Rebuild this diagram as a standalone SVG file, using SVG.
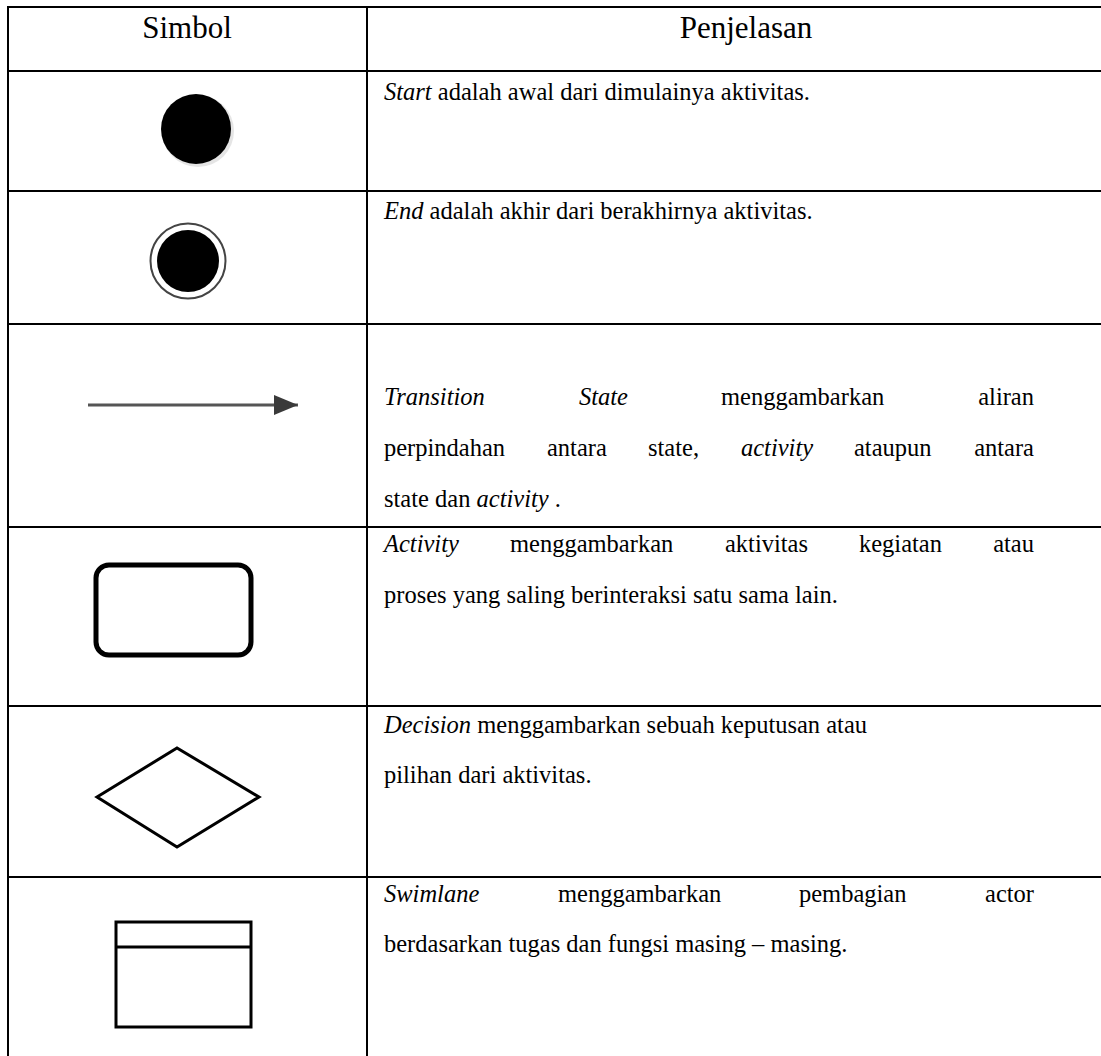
<svg xmlns="http://www.w3.org/2000/svg" width="1101" height="1056" viewBox="0 0 1101 1056">
<style>
.grid{stroke:#000;stroke-width:2;fill:none}
.hd{font-family:"Liberation Serif","Times New Roman",serif;font-size:31px;fill:#000}
.tx{font-family:"Liberation Serif","Times New Roman",serif;font-size:24.5px;fill:#000}
.it{font-style:italic}
.sym{fill:none;stroke:#000}
</style>
<defs>
<marker id="ah" viewBox="0 0 24 20" refX="24" refY="10" markerWidth="24" markerHeight="20" markerUnits="userSpaceOnUse" orient="auto">
<path d="M0,0 L24,10 L0,20 Z" fill="#3a3a3a"/>
</marker>
</defs>
<rect width="1101" height="1056" fill="#fff"/>
<g id="table-grid" class="grid">
<line x1="8" y1="7" x2="1101" y2="7"/>
<line x1="8" y1="71" x2="1101" y2="71"/>
<line x1="8" y1="191" x2="1101" y2="191"/>
<line x1="8" y1="324" x2="1101" y2="324"/>
<line x1="8" y1="527" x2="1101" y2="527"/>
<line x1="8" y1="706" x2="1101" y2="706"/>
<line x1="8" y1="877" x2="1101" y2="877"/>
<line x1="8" y1="6" x2="8" y2="1056"/>
<line x1="367" y1="6" x2="367" y2="1056"/>
</g>
<g id="header">
<text class="hd" x="187" y="38" text-anchor="middle">Simbol</text>
<text class="hd" x="746" y="38" text-anchor="middle">Penjelasan</text>
</g>
<g id="row-start">
<circle cx="198" cy="131" r="36" fill="#ccc" opacity="0.5"/>
<circle cx="196" cy="129" r="35" fill="#000"/>
<text class="tx" x="384" y="100"><tspan class="it">Start</tspan> adalah awal dari dimulainya aktivitas.</text>
</g>
<g id="row-end">
<circle cx="188" cy="261" r="37.5" fill="#fff" stroke="#444" stroke-width="2"/>
<circle cx="188" cy="261" r="31" fill="#000"/>
<text class="tx" x="384" y="219"><tspan class="it">End</tspan> adalah akhir dari berakhirnya aktivitas.</text>
</g>
<g id="row-transition">
<text class="tx" y="405"><tspan class="it" x="384">Transition</tspan><tspan class="it" x="579">State</tspan><tspan x="721">menggambarkan</tspan><tspan x="1034" text-anchor="end">aliran</tspan></text>
<text class="tx" y="456"><tspan x="384">perpindahan</tspan><tspan x="547">antara</tspan><tspan x="648">state,</tspan><tspan class="it" x="741">activity</tspan><tspan x="854">ataupun</tspan><tspan x="1034" text-anchor="end">antara</tspan></text>
<text class="tx" x="384" y="507">state dan <tspan class="it">activity</tspan> .</text>
</g>
<g id="row-activity">
<rect x="96" y="565" width="155" height="90" rx="13" class="sym" stroke-width="5"/>
<text class="tx" y="552"><tspan class="it" x="384">Activity</tspan><tspan x="510">menggambarkan</tspan><tspan x="725">aktivitas</tspan><tspan x="859">kegiatan</tspan><tspan x="1034" text-anchor="end">atau</tspan></text>
<text class="tx" x="384" y="603">proses yang saling berinteraksi satu sama lain.</text>
</g>
<g id="row-decision">
<polygon points="97,797 177,748 259,797 177,847" class="sym" stroke-width="3"/>
<text class="tx" x="384" y="733"><tspan class="it">Decision</tspan> menggambarkan sebuah keputusan atau</text>
<text class="tx" x="384" y="783">pilihan dari aktivitas.</text>
</g>
<g id="row-swimlane">
<rect x="116" y="922" width="135" height="105" class="sym" stroke-width="3"/>
<line x1="116" y1="947" x2="251" y2="947" stroke="#000" stroke-width="3"/>
<text class="tx" y="902"><tspan class="it" x="384">Swimlane</tspan><tspan x="558">menggambarkan</tspan><tspan x="799">pembagian</tspan><tspan x="1034" text-anchor="end">actor</tspan></text>
<text class="tx" x="384" y="952">berdasarkan tugas dan fungsi masing – masing.</text>
</g>
<g id="connectors">
<line x1="88" y1="405" x2="298" y2="405" stroke="#555" stroke-width="3" marker-end="url(#ah)"/>
</g>
</svg>
